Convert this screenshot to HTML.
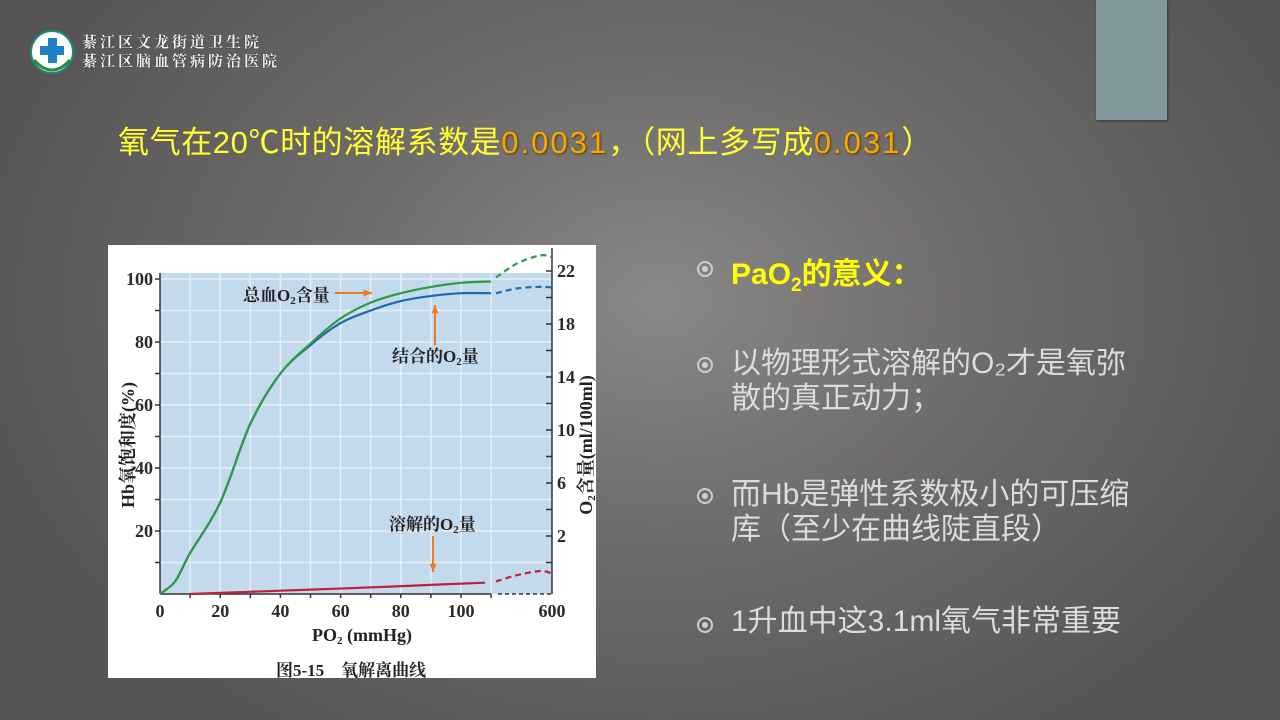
<!DOCTYPE html>
<html><head><meta charset="utf-8">
<style>
html,body{margin:0;padding:0;}
body{width:1280px;height:720px;position:relative;overflow:hidden;
background:radial-gradient(ellipse 700px 520px at 660px 300px,#8a8787 0%,#6f6c6c 45%,#565454 100%);
font-family:"Liberation Sans","Noto Sans CJK SC",sans-serif;}
.abs{position:absolute;}
#title{left:118px;top:117px;font-size:31px;color:#ffff33;white-space:nowrap;letter-spacing:0.6px;}
#title .num{color:#f5a800;text-shadow:1px 1px 2px #5a3a00;letter-spacing:2px;}
#deco{left:1096px;top:0;width:71px;height:120px;background:#7f979a;box-shadow:1px 1px 3px rgba(0,0,0,.4);}
.bul{color:#dcdcdc;font-size:30px;line-height:35px;font-family:"Liberation Sans","Noto Sans CJK SC",sans-serif;}
.dot{position:absolute;left:697px;width:12px;height:12px;border:2px solid #cfcfcf;border-radius:50%;}
.dot::after{content:"";position:absolute;left:3px;top:3px;width:6px;height:6px;border-radius:50%;background:#cfcfcf;}
#logo-text{left:82px;top:34px;color:#f2f2f2;font-size:15px;line-height:19px;font-family:"Liberation Serif","Noto Serif CJK SC",serif;font-weight:bold;letter-spacing:3px;text-shadow:0 0 1px #000;}
</style></head><body>
<div class="abs" id="logo" style="left:26px;top:28px;width:52px;height:52px;">
<svg width="52" height="52"><circle cx="26" cy="24" r="21" fill="#fff" stroke="#1a8a7a" stroke-width="2"/><rect x="14" y="18" width="24" height="9" fill="#1f7fc8"/><rect x="22" y="10" width="9" height="25" fill="#1f7fc8"/><path d="M8 32 Q26 52 44 32" stroke="#2a8a3a" stroke-width="3" fill="none"/></svg></div>
<div class="abs" id="logo-text">綦江区文龙街道卫生院<br>綦江区脑血管病防治医院</div>
<div class="abs" id="deco"></div>
<div class="abs" id="title">氧气在20℃时的溶解系数是<span class="num">0.0031</span>，（网上多写成<span class="num">0.031</span>）</div>

<div class="abs" style="left:108px;top:245px;width:488px;height:433px;background:#fff;">
<svg id="chart" width="488" height="433" style="position:absolute;left:0;top:0"></svg>
</div>

<div class="dot" style="top:261px"></div>
<div class="abs" style="left:731px;top:249px;color:#ffff00;font-size:30px;font-weight:bold;">PaO<sub style="font-size:19px">2</sub>的意义：</div>
<div class="dot" style="top:357px"></div>
<div class="abs bul" style="left:731px;top:346px;width:420px;">以物理形式溶解的O₂才是氧弥<br>散的真正动力；</div>
<div class="dot" style="top:488px"></div>
<div class="abs bul" style="left:731px;top:477px;width:440px;">而Hb是弹性系数极小的可压缩<br>库（至少在曲线陡直段）</div>
<div class="dot" style="top:617px"></div>
<div class="abs bul" style="left:731px;top:604px;">1升血中这3.1ml氧气非常重要</div>

<script>
const xTickLabels=["0","20","40","60","80","100","600"];
const xTickVals=[0,20,40,60,80,100,600];
const yTickLabels=["20","40","60","80","100"];
const yTickVals=[20,40,60,80,100];
const rTickLabels=["2","6","10","14","18","22"];
const rTickVals=[2,6,10,14,18,22];
const px=[0,5,10,20,30,40,50,60,70,80,90,100,110];
const boundVals=[0,4,13,29,54,70,79,86,90,93,94.6,95.5,95.5];
const totalVals=[0,4,13,29,54,70,79.5,87.5,92.5,95.5,97.5,98.8,99.2];
const dissolvedPx=[10,30,50,70,90,108];
const dissolvedVals=[0,0.7,1.4,2.1,2.9,3.6];
const dashPx=[115,300,500,600];
const totalDash=[100.5,105,107.5,107];
const boundDash=[95.5,97,97.5,97.3];
const dissolvedDash=[4,6,7.3,6.5];

const OX=108,OY=245;
function X(v){return v<=110?(160+v*3.01-OX):(496+(v-115)*(56/485)-OX);}
function Y(v){return 594-v*3.15-OY;}
function R(v){return 536-(v-2)*13.25-OY;}
const NS="http://www.w3.org/2000/svg";
const svg=document.getElementById('chart');
function el(t,a,p){const e=document.createElementNS(NS,t);for(const k in a)e.setAttribute(k,a[k]);(p||svg).appendChild(e);return e;}
const bg=el('rect',{x:X(0),y:273-OY,width:552-160,height:594-273,fill:'#c3d9ec'});


for(let v=10;v<=110;v+=10){const g=el('line',{x1:X(v),x2:X(v),y1:273-OY,y2:Y(0),stroke:'#e6eff7','stroke-width':1.5});

}
for(let v=10;v<=100;v+=10){const g=el('line',{x1:X(0),x2:552-OX,y1:Y(v),y2:Y(v),stroke:'#e6eff7','stroke-width':1.5});

}
el('line',{x1:X(0),x2:X(0),y1:273-OY,y2:Y(0),stroke:'#333','stroke-width':1.5});
el('line',{x1:X(0),x2:X(110),y1:Y(0),y2:Y(0),stroke:'#333','stroke-width':1.5});
el('line',{x1:498-OX,x2:552-OX,y1:Y(0),y2:Y(0),stroke:'#333','stroke-width':1.5,'stroke-dasharray':'4,3'});
el('line',{x1:552-OX,x2:552-OX,y1:248-OY,y2:Y(0),stroke:'#333','stroke-width':1.5});
for(let v=10;v<=110;v+=10)el('line',{x1:X(v),x2:X(v),y1:Y(0),y2:Y(0)+4,stroke:'#333','stroke-width':1.5});
for(let v=10;v<=100;v+=10)el('line',{x1:X(0)-5,x2:X(0),y1:Y(v),y2:Y(v),stroke:'#333','stroke-width':1.5});
for(let v=0;v<=22;v+=2)el('line',{x1:552-OX-6,x2:552-OX,y1:R(v),y2:R(v),stroke:'#333','stroke-width':1.5});
const TF='Liberation Serif,Noto Serif CJK SC,serif';
xTickVals.forEach((v,i)=>{const t=el('text',{x:X(v),y:Y(0)+23,'text-anchor':'middle','font-size':18,'font-weight':'bold','font-family':TF,fill:'#2a2a2a'});t.textContent=xTickLabels[i];

});
yTickVals.forEach((v,i)=>{const t=el('text',{x:X(0)-7,y:Y(v)+6,'text-anchor':'end','font-size':18,'font-weight':'bold','font-family':TF,fill:'#2a2a2a'});t.textContent=yTickLabels[i];

});
rTickVals.forEach((v,i)=>{const t=el('text',{x:552-OX+5,y:R(v)+6,'font-size':18,'font-weight':'bold','font-family':TF,fill:'#2a2a2a'});t.textContent=rTickLabels[i];

});
function line(xs,ys,col,dash,name){
const P=xs.map((x,i)=>[X(x),Y(ys[i])]);
let d='M'+P[0][0].toFixed(1)+' '+P[0][1].toFixed(1);
for(let i=0;i<P.length-1;i++){const p0=P[i-1]||P[i],p1=P[i],p2=P[i+1],p3=P[i+2]||p2;
const c1=[p1[0]+(p2[0]-p0[0])/6,p1[1]+(p2[1]-p0[1])/6],c2=[p2[0]-(p3[0]-p1[0])/6,p2[1]-(p3[1]-p1[1])/6];
d+=` C${c1[0].toFixed(1)} ${c1[1].toFixed(1)} ${c2[0].toFixed(1)} ${c2[1].toFixed(1)} ${p2[0].toFixed(1)} ${p2[1].toFixed(1)}`;}
const p=el('path',{d:d,fill:'none',stroke:col,'stroke-width':2.2,'stroke-linejoin':'round'});if(dash)p.setAttribute('stroke-dasharray','6,4');

}
line(px,boundVals,'#1d6ab0',false,'bound-o2-line');
line(px,totalVals,'#2f9a45',false,'total-o2-line');
line(dissolvedPx,dissolvedVals,'#c0203a',false,'dissolved-o2-line');
line(dashPx,totalDash,'#2f9a45',true,'total-o2-dashed');
line(dashPx,boundDash,'#1d6ab0',true,'bound-o2-dashed');
line(dashPx,dissolvedDash,'#c0203a',true,'dissolved-o2-dashed');
function txt(x,y,s,sz,name,extra){const t=el('text',Object.assign({x:x,y:y,'font-size':sz,'font-family':TF,fill:'#222'},extra||{}));t.innerHTML=s;

return t;}
txt(135,56,'总血O<tspan font-size="11" dy="3">2</tspan><tspan dy="-3">含量</tspan>',17,'label-total-o2',{'font-weight':'bold'});
txt(284,117,'结合的O<tspan font-size="11" dy="3">2</tspan><tspan dy="-3">量</tspan>',17,'label-bound-o2',{'font-weight':'bold'});
txt(281,285,'溶解的O<tspan font-size="11" dy="3">2</tspan><tspan dy="-3">量</tspan>',17,'label-dissolved-o2',{'font-weight':'bold'});
function arrow(x1,y1,x2,y2){el('line',{x1:x1,y1:y1,x2:x2,y2:y2,stroke:'#f07a20','stroke-width':2});
const a=Math.atan2(y2-y1,x2-x1),L=9;el('polygon',{points:`${x2},${y2} ${x2-L*Math.cos(a-0.4)},${y2-L*Math.sin(a-0.4)} ${x2-L*Math.cos(a+0.4)},${y2-L*Math.sin(a+0.4)}`,fill:'#f07a20'});}
arrow(227,48,264,48);arrow(327,100,327,60);arrow(325,291,325,327);
txt(204,396,'PO<tspan font-size="11" dy="3">2</tspan><tspan dy="-3"> (mmHg)</tspan>',18,'x-axis-title',{'font-weight':'bold'});
txt(26,200,'Hb氧饱和度(%)',18,'y-axis-title',{transform:'rotate(-90 26 200)','text-anchor':'middle','font-weight':'bold'});
txt(484,200,'O<tspan font-size="11" dy="3">2</tspan><tspan dy="-3">含量(ml/100ml)</tspan>',18,'right-axis-title',{transform:'rotate(-90 484 200)','text-anchor':'middle','font-weight':'bold'});
txt(168,431,'图5-15　氧解离曲线',17,'figure-caption',{'font-weight':'bold'});
</script>
</body></html>
